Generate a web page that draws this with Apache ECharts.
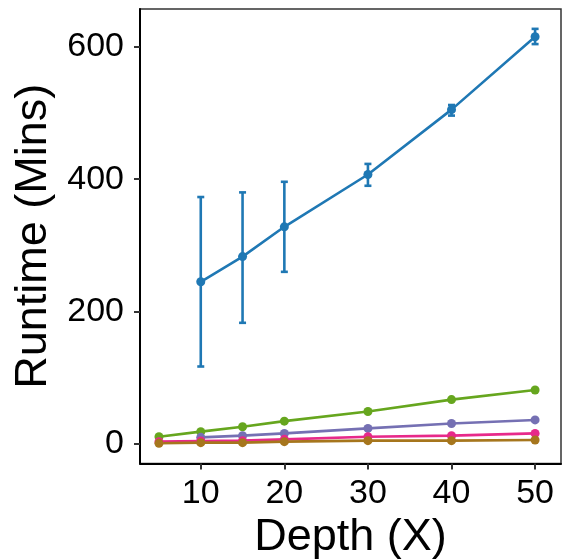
<!DOCTYPE html>
<html><head><meta charset="utf-8">
<script src="https://cdn.jsdelivr.net/npm/echarts@6/dist/echarts.min.js"></script>
<style>html,body{margin:0;padding:0;background:#fff}#c{width:563px;height:559px}</style>
</head><body><div id="c"></div>
<script>
// Data
const blueX = [10, 15, 20, 30, 40, 50];
const blueMean = [245, 283, 328, 407, 505, 615];
const blueLow = [117, 183, 260, 390, 496, 604];
const blueHigh = [373, 380, 396, 423, 512, 627];

const depths = [5, 10, 15, 20, 30, 40, 50];
const greenVals = [11, 18.6, 26, 34.5, 49, 67, 81.6];
const purpleX = [10, 15, 20, 30, 40, 50];
const purpleVals = [10, 12.6, 16, 23.5, 31, 36.3];
const pinkVals = [3.5, 4.5, 5, 7, 11, 12.6, 16];
const brownVals = [1, 2, 2, 3.5, 5, 5, 6];

const xTicks = [10, 20, 30, 40, 50];
const yTicks = [0, 200, 400, 600];

const xTitle = 'Depth (X)';
const yTitle = 'Runtime (Mins)';

const pair = (xs, ys) => xs.map((x, i) => [x, ys[i]]);

const chart = echarts.init(document.getElementById('c'), null, {renderer: 'canvas'});
const FONT = 'Liberation Sans, Arial, sans-serif';

function lineSeries(name, color, data) {
  return {
    name, type: 'line', data, color,
    symbol: 'circle', symbolSize: 9, showSymbol: true,
    lineStyle: {width: 2.6, color},
    itemStyle: {color},
    animation: false, z: 3
  };
}

chart.setOption({
  animation: false,
  grid: {left: 140, top: 9, width: 421, height: 454.5, show: true, borderColor: '#333', borderWidth: 1.5,
         backgroundColor: 'transparent', containLabel: false, outerBoundsMode: 'none'},
  xAxis: {
    type: 'value', min: 2.73, max: 53.1,
    name: xTitle, nameLocation: 'middle', nameGap: 42,
    nameTextStyle: {fontFamily: FONT, fontSize: 45, color: '#000'},
    axisLine: {show: true, onZero: false, lineStyle: {color: '#000', width: 2}},
    axisTick: {show: true, length: 6, lineStyle: {color: '#333', width: 2}, customValues: xTicks},
    axisLabel: {fontFamily: FONT, fontSize: 34, color: '#000', margin: 13, customValues: xTicks},
    splitLine: {show: false}
  },
  yAxis: {
    type: 'value', min: -29.5, max: 657,
    name: yTitle, nameLocation: 'middle', nameGap: 84, nameRotate: 90,
    nameTextStyle: {fontFamily: FONT, fontSize: 45, color: '#000'},
    axisLine: {show: true, onZero: false, lineStyle: {color: '#000', width: 2}},
    axisTick: {show: true, length: 6, lineStyle: {color: '#333', width: 2}, customValues: yTicks},
    axisLabel: {fontFamily: FONT, fontSize: 34, color: '#000', margin: 16, customValues: yTicks},
    splitLine: {show: false}
  },
  series: [
    lineSeries('green', '#66a61e', pair(depths, greenVals)),
    lineSeries('purple', '#7570b3', pair(purpleX, purpleVals)),
    lineSeries('pink', '#e7298a', pair(depths, pinkVals)),
    lineSeries('brown', '#a6761d', pair(depths, brownVals)),
    {
      name: 'blueErr', type: 'custom', z: 4,
      data: blueX.map((x, i) => [x, blueLow[i], blueHigh[i]]),
      renderItem: function (params, api) {
        const x = api.value(0);
        const lo = api.coord([x, api.value(1)]);
        const hi = api.coord([x, api.value(2)]);
        const hw = 3.5;
        const style = {stroke: '#1f78b4', lineWidth: 2.6};
        return {type: 'group', children: [
          {type: 'line', shape: {x1: hi[0], y1: hi[1], x2: lo[0], y2: lo[1]}, style},
          {type: 'line', shape: {x1: hi[0] - hw, y1: hi[1], x2: hi[0] + hw, y2: hi[1]}, style},
          {type: 'line', shape: {x1: lo[0] - hw, y1: lo[1], x2: lo[0] + hw, y2: lo[1]}, style}
        ]};
      },
      animation: false
    },
    lineSeries('blue', '#1f78b4', pair(blueX, blueMean))
  ]
});
</script></body></html>
